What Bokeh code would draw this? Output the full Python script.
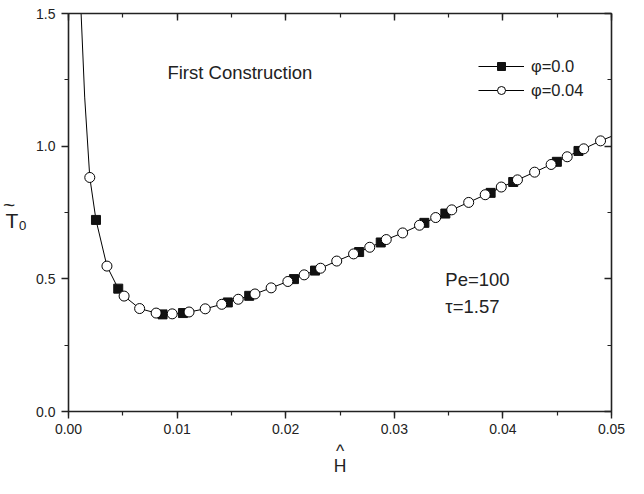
import numpy as np
from bokeh.plotting import figure
from bokeh.models import (Range1d, LinearAxis, SingleIntervalTicker, NumeralTickFormatter,
                          CustomJSTickFormatter, Label, Legend, LegendItem, ColumnDataSource)
from bokeh.embed import file_html
from bokeh.resources import INLINE

# ---- data ----
sq_x = [0.00253, 0.00458, 0.00866, 0.01054, 0.01467, 0.01664, 0.02076, 0.0227,
        0.02676, 0.02875, 0.03277, 0.0347, 0.03887, 0.04095, 0.04497, 0.04696]
sq_y = [0.722, 0.463, 0.366, 0.371, 0.411, 0.436, 0.499, 0.531,
        0.601, 0.637, 0.711, 0.746, 0.824, 0.865, 0.941, 0.982]

ci_x = [0.00196, 0.00354, 0.00512, 0.00655, 0.00807, 0.00955, 0.0111, 0.01259,
        0.01411, 0.01563, 0.01717, 0.01866, 0.0202, 0.0217, 0.02321, 0.0247,
        0.02625, 0.02774, 0.02926, 0.03077, 0.03232, 0.03381, 0.03529, 0.03685,
        0.03837, 0.03985, 0.04134, 0.04292, 0.04444, 0.04592, 0.04744, 0.04899]
ci_y = [0.882, 0.548, 0.435, 0.388, 0.371, 0.368, 0.375, 0.387,
        0.404, 0.423, 0.443, 0.466, 0.490, 0.515, 0.540, 0.567,
        0.594, 0.619, 0.648, 0.673, 0.702, 0.731, 0.760, 0.788,
        0.817, 0.846, 0.873, 0.902, 0.931, 0.960, 0.990, 1.020]

# extra points of the continuous curve beyond the markers
curve_head_x = [0.00116, 0.00149]
curve_head_y = [1.5, 1.185]
curve_tail_x = [0.05]
curve_tail_y = [1.037]

labels_sq = "φ=0.0"
labels_ci = "φ=0.04"

FONT = "Liberation Sans"
INK = "#222222"

cx = np.array(curve_head_x + sq_x + ci_x + curve_tail_x)
cy = np.array(curve_head_y + sq_y + ci_y + curve_tail_y)
order = np.argsort(cx)
curve = ColumnDataSource(dict(x=cx[order], y=cy[order]))

p = figure(width=628, height=478, output_backend="svg", toolbar_location=None,
           x_range=Range1d(0, 0.05), y_range=Range1d(0, 1.5),
           min_border_left=66, min_border_right=17, min_border_top=13, min_border_bottom=64)
p.outline_line_color = None
p.xgrid.visible = False
p.ygrid.visible = False

def style_axis(ax, interval, fmt, show_labels, inward):
    ax.ticker = SingleIntervalTicker(interval=interval, num_minor_ticks=2)
    ax.axis_line_color = INK
    ax.axis_line_width = 1.6
    ax.major_tick_line_color = INK
    ax.minor_tick_line_color = INK
    ax.major_tick_line_width = 1.4
    ax.minor_tick_line_width = 1.2
    if inward:
        ax.major_tick_in = 7
        ax.major_tick_out = 0
        ax.minor_tick_in = 4
        ax.minor_tick_out = 0
    else:
        ax.major_tick_in = 0
        ax.major_tick_out = 7
        ax.minor_tick_in = 0
        ax.minor_tick_out = 4
    if show_labels:
        ax.formatter = NumeralTickFormatter(format=fmt)
        ax.major_label_text_font = FONT
        ax.major_label_text_font_size = "14px"
        ax.major_label_text_color = INK
    else:
        ax.formatter = CustomJSTickFormatter(code="return ''")
        ax.major_label_text_font_size = "0px"
        ax.major_label_standoff = 0

style_axis(p.xaxis[0], 0.01, "0.00", True, False)
p.xaxis[0].major_label_standoff = 5
style_axis(p.yaxis[0], 0.5, "0.0", True, False)
p.yaxis[0].major_label_standoff = 6

p.xaxis[0].axis_label = "^\nH"
p.xaxis[0].axis_label_text_font = FONT
p.xaxis[0].axis_label_text_font_size = "17.5px"
p.xaxis[0].axis_label_text_font_style = "normal"
p.xaxis[0].axis_label_text_color = INK
p.xaxis[0].axis_label_text_line_height = 0.75
p.xaxis[0].axis_label_standoff = 4

p.yaxis[0].axis_label = "~  \nT\u2080"
p.yaxis[0].axis_label_orientation = "horizontal"
p.yaxis[0].axis_label_text_font = FONT
p.yaxis[0].axis_label_text_font_size = "21px"
p.yaxis[0].axis_label_text_font_style = "normal"
p.yaxis[0].axis_label_text_color = INK
p.yaxis[0].axis_label_text_line_height = 0.67
p.yaxis[0].axis_label_standoff = 6

top = LinearAxis()
style_axis(top, 0.01, "0.00", False, True)
p.add_layout(top, "above")
right = LinearAxis()
style_axis(right, 0.5, "0.0", False, True)
p.add_layout(right, "right")

line_r = p.line("x", "y", source=curve, line_color="black", line_width=1)
sq_r = p.scatter(sq_x, sq_y, marker="square", size=9, fill_color="#111111", line_color="#111111")
ci_r = p.scatter(ci_x, ci_y, marker="circle", size=10, fill_color="white", line_color="black", line_width=1)

legend = Legend(items=[LegendItem(label=labels_sq, renderers=[line_r, sq_r]),
                       LegendItem(label=labels_ci, renderers=[line_r, ci_r])],
                location=(410, 311), padding=0, margin=0, spacing=4,
                glyph_width=46, glyph_height=20, label_height=20, label_standoff=7,
                label_text_font=FONT, label_text_font_size="16.5px", label_text_color=INK,
                border_line_color=None, background_fill_alpha=0)
p.add_layout(legend)

def add_text(x, y, text, size, align="left"):
    p.add_layout(Label(x=x, y=y, text=text, text_font=FONT, text_font_size=size,
                       text_color=INK, text_align=align, text_baseline="alphabetic"))

add_text(0.00911, 1.278, "First Construction", "18.5px")
add_text(0.0347, 0.499, "Pe=100", "18.5px")
add_text(0.0347, 0.396, "τ=1.57", "18.5px")

open("out.html", "w").write(file_html(p, INLINE))
